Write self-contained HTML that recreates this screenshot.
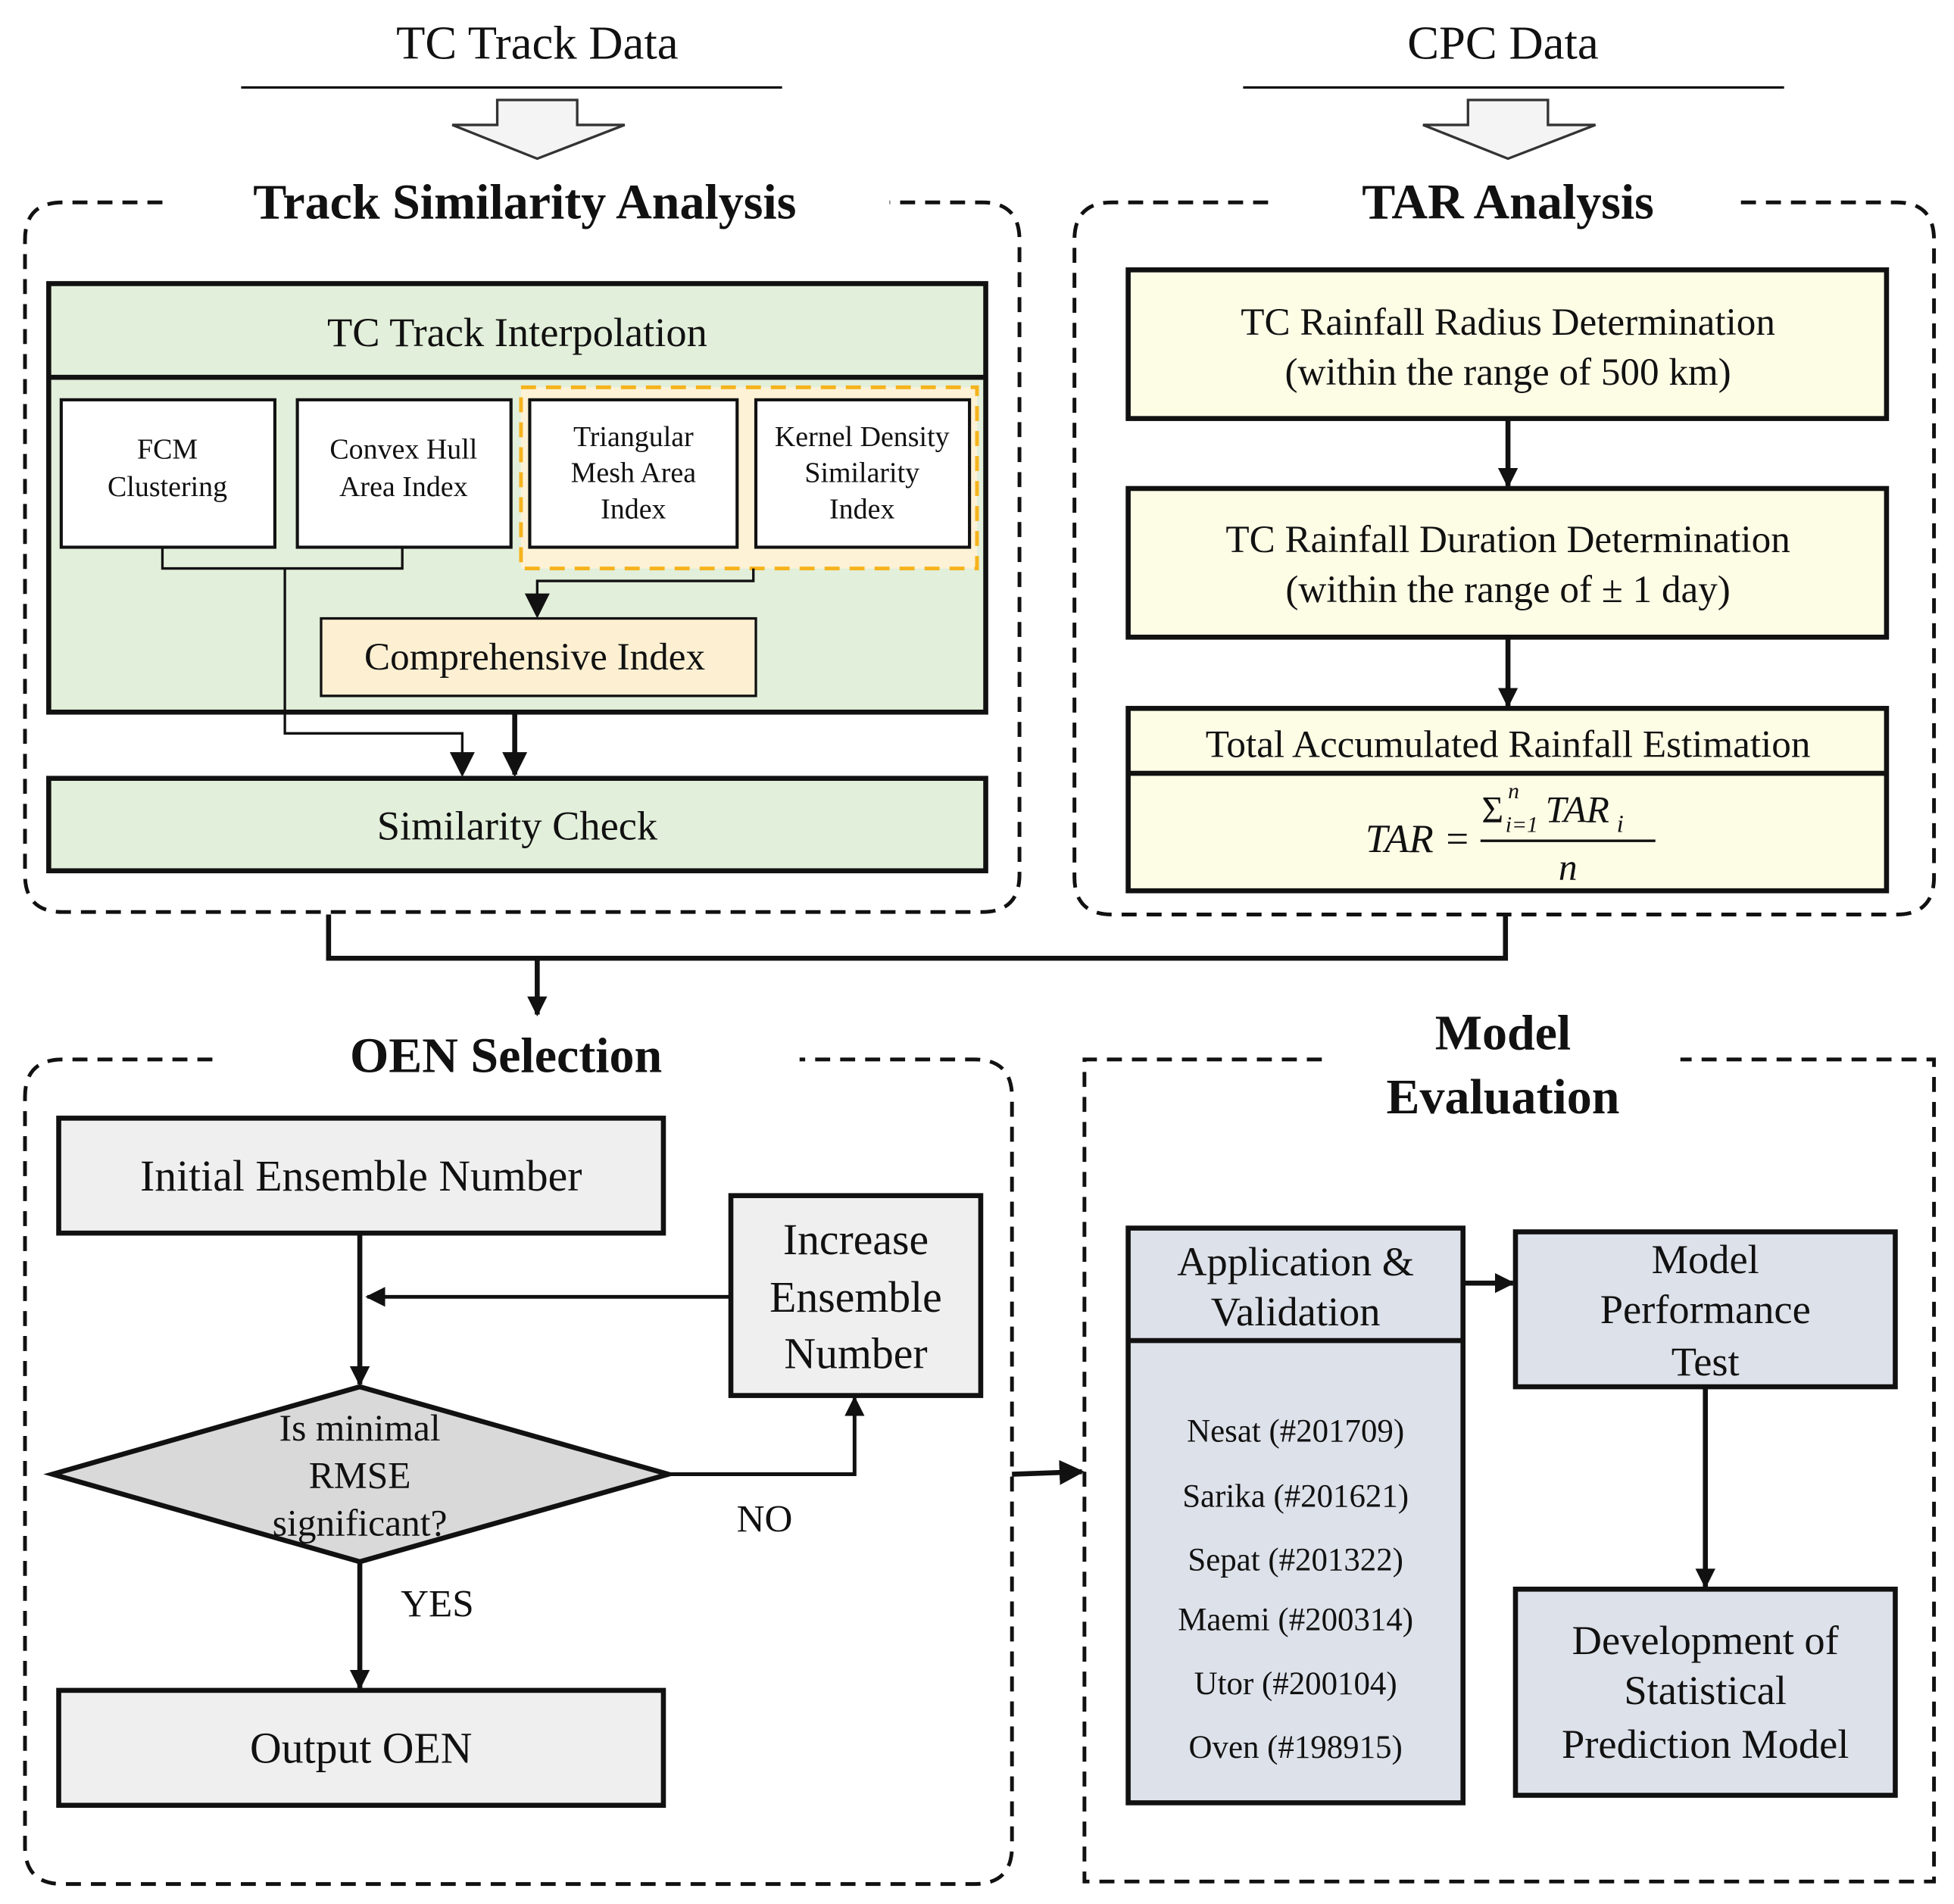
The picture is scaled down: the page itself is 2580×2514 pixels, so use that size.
<!DOCTYPE html>
<html><head><meta charset="utf-8"><style>
html,body{margin:0;padding:0;background:#fff}
svg{display:block}
text{font-family:"Liberation Serif","DejaVu Serif",serif;fill:#111}
</style></head><body>
<svg width="2580" height="2514" viewBox="0 0 1564 1524" xmlns="http://www.w3.org/2000/svg" font-family="Liberation Serif, DejaVu Serif, serif">
<defs>
<marker id="ah" viewBox="0 0 10 10" refX="9" refY="5" markerWidth="16" markerHeight="16" markerUnits="userSpaceOnUse" orient="auto-start-reverse"><path d="M0,0 L10,5 L0,10 z" fill="#111"/></marker>
<marker id="ah2" viewBox="0 0 10 10" refX="9" refY="5" markerWidth="20" markerHeight="20" markerUnits="userSpaceOnUse" orient="auto-start-reverse"><path d="M0,0 L10,5 L0,10 z" fill="#111"/></marker>
</defs>
<rect width="1564" height="1524" fill="#fff"/>
<text x="430" y="47" font-size="38" text-anchor="middle">TC Track Data</text>
<line x1="193" y1="70" x2="626" y2="70" stroke="#111" stroke-width="2"/>
<path d="M398,80 H462 V100 H500 L430,127 L362,100 H398 Z" fill="#f4f4f4" stroke="#333" stroke-width="2"/>
<text x="1203" y="47" font-size="38" text-anchor="middle">CPC Data</text>
<line x1="995" y1="70" x2="1428" y2="70" stroke="#111" stroke-width="2"/>
<path d="M1175,80 H1239 V100 H1277 L1207,127 L1139,100 H1175 Z" fill="#f4f4f4" stroke="#333" stroke-width="2"/>

<path d="M130,162 H50 Q20,162 20,192 V700 Q20,730 50,730 H786 Q816,730 816,700 V192 Q816,162 786,162 H712" fill="none" stroke="#111" stroke-width="3" stroke-dasharray="12 8"/>
<text x="420" y="175" font-size="40" font-weight="bold" text-anchor="middle">Track Similarity Analysis</text>
<rect x="39" y="227" width="750" height="343" fill="#e2efda" stroke="#111" stroke-width="4"/>
<line x1="39" y1="302" x2="789" y2="302" stroke="#111" stroke-width="4"/>
<text x="414" y="277" font-size="33" text-anchor="middle">TC Track Interpolation</text>
<rect x="417" y="310" width="365" height="145" fill="#fdf2d6" stroke="#f5b31c" stroke-width="3" stroke-dasharray="12 8"/>
<rect x="49" y="320" width="171" height="118" fill="#fff" stroke="#111" stroke-width="2.5"/>
<rect x="238" y="320" width="171" height="118" fill="#fff" stroke="#111" stroke-width="2.5"/>
<rect x="424" y="320" width="166" height="118" fill="#fff" stroke="#111" stroke-width="2.5"/>
<rect x="605" y="320" width="171" height="118" fill="#fff" stroke="#111" stroke-width="2.5"/>
<g font-size="23" text-anchor="middle">
<text x="134" y="367">FCM</text><text x="134" y="397">Clustering</text>
<text x="323" y="367">Convex Hull</text><text x="323" y="397">Area Index</text>
<text x="507" y="357">Triangular</text><text x="507" y="386">Mesh Area</text><text x="507" y="415">Index</text>
<text x="690" y="357">Kernel Density</text><text x="690" y="386">Similarity</text><text x="690" y="415">Index</text>
</g>
<path d="M130,438 V455 H322 V438" fill="none" stroke="#111" stroke-width="2"/>
<path d="M228,455 V587 H370 V620" fill="none" stroke="#111" stroke-width="2" marker-end="url(#ah2)"/>
<path d="M603,455 V465 H430 V493" fill="none" stroke="#111" stroke-width="2" marker-end="url(#ah2)"/>
<rect x="257" y="495" width="348" height="62" fill="#fdf0d2" stroke="#111" stroke-width="2"/>
<text x="428" y="536" font-size="31" text-anchor="middle">Comprehensive Index</text>
<line x1="412" y1="570" x2="412" y2="620" stroke="#111" stroke-width="4" marker-end="url(#ah2)"/>
<rect x="39" y="623" width="750" height="74" fill="#e2efda" stroke="#111" stroke-width="4"/>
<text x="414" y="672" font-size="33" text-anchor="middle">Similarity Check</text>

<path d="M1015,162 H890 Q860,162 860,192 V702 Q860,732 890,732 H1518 Q1548,732 1548,702 V192 Q1548,162 1518,162 H1392" fill="none" stroke="#111" stroke-width="3" stroke-dasharray="12 8"/>
<text x="1207" y="175" font-size="40" font-weight="bold" text-anchor="middle">TAR Analysis</text>
<rect x="903" y="216" width="607" height="119" fill="#fdfde6" stroke="#111" stroke-width="4"/>
<text x="1207" y="268" font-size="31" text-anchor="middle">TC Rainfall Radius Determination</text>
<text x="1207" y="308" font-size="31" text-anchor="middle">(within the range of 500 km)</text>
<line x1="1207" y1="335" x2="1207" y2="389" stroke="#111" stroke-width="4" marker-end="url(#ah)"/>
<rect x="903" y="391" width="607" height="119" fill="#fdfde6" stroke="#111" stroke-width="4"/>
<text x="1207" y="442" font-size="31" text-anchor="middle">TC Rainfall Duration Determination</text>
<text x="1207" y="482" font-size="31" text-anchor="middle">(within the range of ± 1 day)</text>
<line x1="1207" y1="510" x2="1207" y2="565" stroke="#111" stroke-width="4" marker-end="url(#ah)"/>
<rect x="903" y="567" width="607" height="146" fill="#fdfde6" stroke="#111" stroke-width="4"/>
<line x1="903" y1="619" x2="1510" y2="619" stroke="#111" stroke-width="4"/>
<text x="1207" y="606" font-size="31" text-anchor="middle">Total Accumulated Rainfall Estimation</text>
<text x="1177" y="682" font-size="32" font-style="italic" text-anchor="end">TAR =</text>
<text x="1186" y="658" font-size="30">Σ</text>
<text x="1205" y="666" font-size="18" font-style="italic">i=1</text>
<text x="1207" y="639" font-size="18" font-style="italic">n</text>
<text x="1237" y="658" font-size="30" font-style="italic">TAR</text>
<text x="1294" y="666" font-size="20" font-style="italic">i</text>
<line x1="1185" y1="673" x2="1325" y2="673" stroke="#111" stroke-width="2"/>
<text x="1255" y="704" font-size="30" font-style="italic" text-anchor="middle">n</text>

<path d="M263,732 V767 H1205 V732" fill="none" stroke="#111" stroke-width="4"/>
<line x1="430" y1="767" x2="430" y2="812" stroke="#111" stroke-width="4" marker-end="url(#ah)"/>

<path d="M170,848 H50 Q20,848 20,878 V1478 Q20,1508 50,1508 H780 Q810,1508 810,1478 V878 Q810,848 780,848 H640" fill="none" stroke="#111" stroke-width="3" stroke-dasharray="12 8"/>
<text x="405" y="858" font-size="40" font-weight="bold" text-anchor="middle">OEN Selection</text>
<rect x="47" y="895" width="484" height="92" fill="#efefef" stroke="#111" stroke-width="4"/>
<text x="289" y="953" font-size="35" text-anchor="middle">Initial Ensemble Number</text>
<rect x="585" y="957" width="200" height="160" fill="#efefef" stroke="#111" stroke-width="4"/>
<text x="685" y="1004" font-size="35" text-anchor="middle">Increase</text>
<text x="685" y="1050" font-size="35" text-anchor="middle">Ensemble</text>
<text x="685" y="1095" font-size="35" text-anchor="middle">Number</text>
<line x1="288" y1="987" x2="288" y2="1108" stroke="#111" stroke-width="4" marker-end="url(#ah)"/>
<line x1="585" y1="1038" x2="294" y2="1038" stroke="#111" stroke-width="3" marker-end="url(#ah)"/>
<polygon points="42,1180 288,1110 535,1180 288,1250" fill="#d9d9d9" stroke="#111" stroke-width="4"/>
<text x="288" y="1153" font-size="30" text-anchor="middle">Is minimal</text>
<text x="288" y="1191" font-size="30" text-anchor="middle">RMSE</text>
<text x="288" y="1229" font-size="30" text-anchor="middle">significant?</text>
<path d="M535,1180 H684 V1119" fill="none" stroke="#111" stroke-width="3" marker-end="url(#ah)"/>
<text x="612" y="1226" font-size="31" text-anchor="middle">NO</text>
<line x1="288" y1="1250" x2="288" y2="1351" stroke="#111" stroke-width="4" marker-end="url(#ah)"/>
<text x="350" y="1294" font-size="31" text-anchor="middle">YES</text>
<rect x="47" y="1353" width="484" height="92" fill="#efefef" stroke="#111" stroke-width="4"/>
<text x="289" y="1411" font-size="35" text-anchor="middle">Output OEN</text>

<path d="M1058,848 H868 V1506 H1548 V848 H1345" fill="none" stroke="#111" stroke-width="3" stroke-dasharray="12 8"/>
<text x="1203" y="840" font-size="40" font-weight="bold" text-anchor="middle">Model</text>
<text x="1203" y="891" font-size="40" font-weight="bold" text-anchor="middle">Evaluation</text>
<line x1="810" y1="1180" x2="866" y2="1178" stroke="#111" stroke-width="4" marker-end="url(#ah2)"/>
<rect x="903" y="983" width="268" height="460" fill="#dde1e9" stroke="#111" stroke-width="4"/>
<line x1="903" y1="1073" x2="1171" y2="1073" stroke="#111" stroke-width="4"/>
<text x="1037" y="1021" font-size="33" text-anchor="middle">Application &amp;</text>
<text x="1037" y="1061" font-size="33" text-anchor="middle">Validation</text>
<g font-size="26" text-anchor="middle">
<text x="1037" y="1154">Nesat (#201709)</text>
<text x="1037" y="1206">Sarika (#201621)</text>
<text x="1037" y="1257">Sepat (#201322)</text>
<text x="1037" y="1305">Maemi (#200314)</text>
<text x="1037" y="1356">Utor (#200104)</text>
<text x="1037" y="1407">Oven (#198915)</text>
</g>
<line x1="1171" y1="1027" x2="1211" y2="1027" stroke="#111" stroke-width="4" marker-end="url(#ah)"/>
<rect x="1213" y="986" width="304" height="124" fill="#dde1e9" stroke="#111" stroke-width="4"/>
<text x="1365" y="1019" font-size="33" text-anchor="middle">Model</text>
<text x="1365" y="1059" font-size="33" text-anchor="middle">Performance</text>
<text x="1365" y="1101" font-size="33" text-anchor="middle">Test</text>
<line x1="1365" y1="1110" x2="1365" y2="1270" stroke="#111" stroke-width="4" marker-end="url(#ah)"/>
<rect x="1213" y="1272" width="304" height="165" fill="#dde1e9" stroke="#111" stroke-width="4"/>
<text x="1365" y="1324" font-size="33" text-anchor="middle">Development of</text>
<text x="1365" y="1364" font-size="33" text-anchor="middle">Statistical</text>
<text x="1365" y="1407" font-size="33" text-anchor="middle">Prediction Model</text>
</svg>
</body></html>
